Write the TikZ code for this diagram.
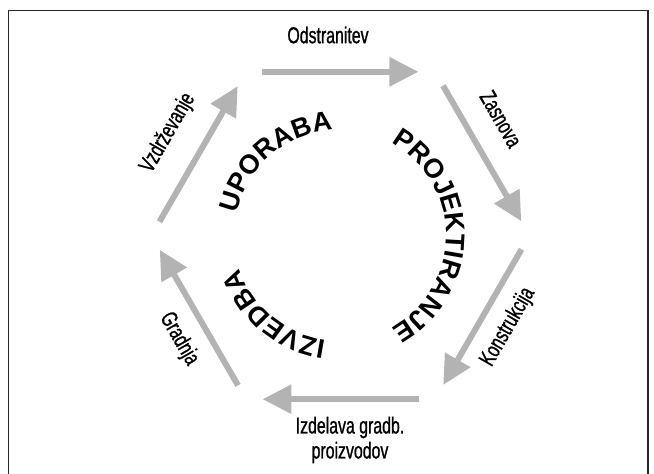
\documentclass[tikz,border=0pt]{standalone}
\usepackage{fontspec}
\usetikzlibrary{arrows.meta,decorations.text}
\newfontfamily\lblfont[FakeStretch=0.69, FakeBold=1]{Liberation Sans}
\newfontfamily\ringfont{Liberation Sans}
\definecolor{flowgray}{RGB}{179,179,179}

\begin{document}
\begin{tikzpicture}[x=1pt, y=1pt,
	flow/.style={draw=flowgray, line width=6pt, shorten <=16pt, shorten >=16.5pt, -{Triangle[length=29pt, width=28pt]}},
	lbl/.style={font=\lblfont\fontsize{23}{25}\selectfont, inner sep=0pt, align=center},
	ring/.style={decorate, decoration={text along path, text align=center, text={|\ringfont\bfseries\fontsize{27}{30}\selectfont|#1}}}]
				\useasboundingbox (-340.5,-238.5) rectangle (313.5,235.5);
				\draw[line width=1.2pt, black!85] (-332,-238.5) -- (-332,225) -- (307.5,225) -- (307.5,-238.5);
				% hexagon corners
				\coordinate (vR) at (189,0);
				\coordinate (vTR) at (94.5,163.7);
				\coordinate (vTL) at (-94.5,163.7);
				\coordinate (vL) at (-189,0);
				\coordinate (vBL) at (-94.5,-163.7);
				\coordinate (vBR) at (94.5,-163.7);
				\draw[flow] (vTL) -- (vTR);
				\draw[flow] (vTR) -- (vR);
				\draw[flow] (vR) -- (vBR);
				\draw[flow] (vBR) -- (vBL);
				\draw[flow] (vBL) -- (vL);
				\draw[flow] (vL) -- (vTL);
				\node[lbl] (odstr) at (-12.5,200.5) {Odstranitev};
				\node[lbl, rotate=-60] (zasn) at (160.5,116.5) {Zasnova};
				\node[lbl, rotate=60] (konstr) at (167.5,-91.5) {Konstrukcija};
				\node[lbl] (izdel) at (9.5,-204.5) {Izdelava gradb.\\proizvodov};
				\node[lbl, rotate=-60] (gradn) at (-161.5,-103.5) {Gradnja};
				\node[lbl, rotate=60] (vzdrz) at (-172.5,102.5) {Vzdrževanje};
				% phases round the ring
				\path[ring=PROJEKTIRANJE] (80:106pt) arc[start angle=80, end angle=-80, radius=106pt];
				\path[ring=UPORABA] (181:106pt) arc[start angle=181, end angle=81, radius=106pt];
				\path[ring=IZVEDBA] (280:106pt) arc[start angle=280, end angle=180, radius=106pt];
			\end{tikzpicture}
\end{document}
